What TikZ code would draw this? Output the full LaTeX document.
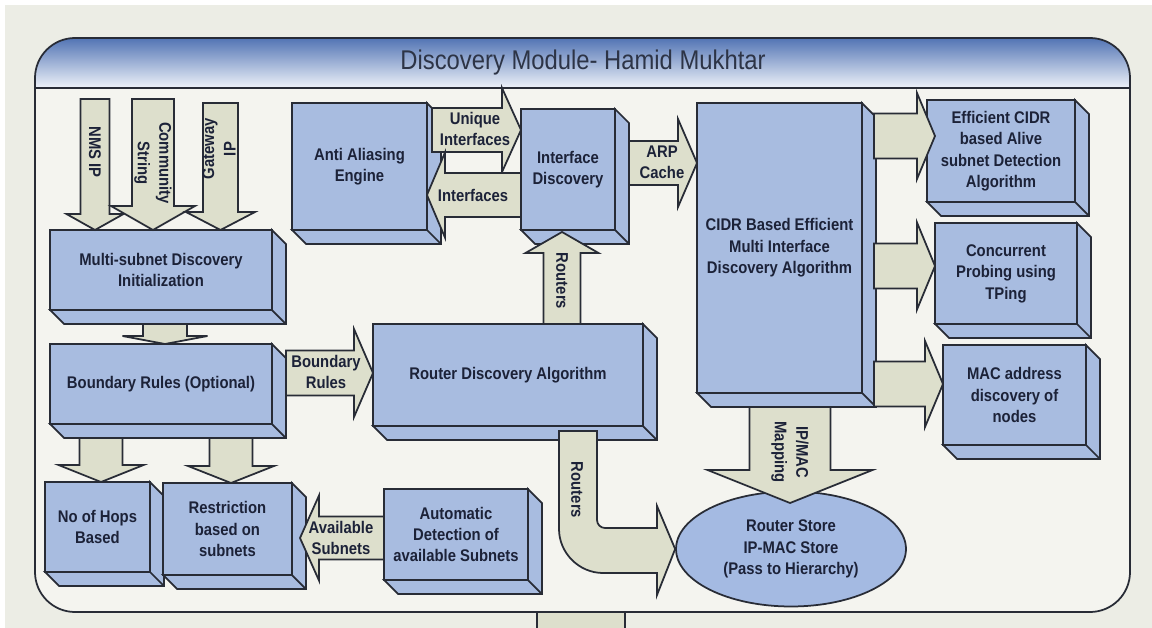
\documentclass[tikz,border=0pt]{standalone}
\usepackage{fontspec}
\setmainfont{Liberation Sans}[FakeStretch=0.88]
\usetikzlibrary{calc,positioning,shapes.geometric}

\definecolor{boxblue}{RGB}{168,188,224}
\definecolor{storeblue}{RGB}{164,186,226}
\definecolor{arrowfill}{RGB}{221,223,204}
\definecolor{edge}{RGB}{40,44,54}
\definecolor{inktext}{RGB}{28,34,56}
\definecolor{titleink}{RGB}{45,52,70}
\definecolor{headtop}{RGB}{82,116,180}
\definecolor{headbottom}{RGB}{238,242,249}
\definecolor{pagebg}{RGB}{236,237,229}
\definecolor{framebg}{RGB}{244,244,239}

\newcommand{\boxfont}{\fontsize{9.6}{12.2}\selectfont\bfseries}
\newcommand{\pxu}{0.02cm}

\tikzset{
  blockbox/.style={draw=edge, fill=boxblue, line width=1pt, anchor=north west,
    outer sep=0pt, align=center, text=inktext, font=\boxfont},
  boxside/.style={draw=edge, fill=boxblue, line width=1pt},
  fatarrow/.style={draw=edge, fill=arrowfill, line width=1pt, line join=miter},
  arrowtext/.style={align=center, text=inktext, font=\boxfont, inner sep=0pt},
}

% 3-D faces below and right of a box
\newcommand{\boxsides}[1]{%
  \filldraw[boxside] (#1.north east) -- ++(14,14) -- ($(#1.south east)+(14,14)$)
    -- ($(#1.south west)+(14,14)$) -- (#1.south west) -- (#1.south east) -- cycle;
  \draw[draw=edge, line width=1pt] (#1.south east) -- ++(14,14);
}

% block arrow: tail, tip, half shaft, half head, head length
\newcommand{\bigarrow}[5]{%
  \filldraw[fatarrow] let \p1=(#1), \p2=(#2),
      \n1={veclen(\x2-\x1,\y2-\y1)}, \n2={(\x2-\x1)/\n1}, \n3={(\y2-\y1)/\n1},
      \n4={#3*\pxu}, \n5={#4*\pxu}, \n6={#5*\pxu} in
    ({\x1-(\n3)*\n4},{\y1+(\n2)*\n4})
    -- ({\x2-(\n2)*\n6-(\n3)*\n4},{\y2-(\n3)*\n6+(\n2)*\n4})
    -- ({\x2-(\n2)*\n6-(\n3)*\n5},{\y2-(\n3)*\n6+(\n2)*\n5})
    -- (\p2)
    -- ({\x2-(\n2)*\n6+(\n3)*\n5},{\y2-(\n3)*\n6-(\n2)*\n5})
    -- ({\x2-(\n2)*\n6+(\n3)*\n4},{\y2-(\n3)*\n6-(\n2)*\n4})
    -- ({\x1+(\n3)*\n4},{\y1-(\n2)*\n4}) -- cycle;
}

\begin{document}
\begin{tikzpicture}[x=0.02cm, y=-0.02cm]
    \useasboundingbox (0,0) rectangle (1152,628);
    \fill[pagebg] (0,0) rectangle (1152,628);
    \fill[white] (0,0) rectangle (1152,5);
    \fill[white] (0,0) rectangle (5,628);

    \filldraw[fatarrow] (537,612) rectangle (625,640);
    \fill[framebg, rounded corners=0.8cm] (35,38) rectangle (1130,612);
    \begin{scope}
        \clip[rounded corners=0.8cm] (35,38) rectangle (1130,612);
        \shade[top color=headtop, bottom color=headbottom] (35,38) rectangle (1130,88);
    \end{scope}
    \draw[edge, line width=1pt, rounded corners=0.8cm] (35,38) rectangle (1130,612);
    \draw[edge, line width=1pt] (35,88) -- (1130,88);
    \node (title) [font=\fontsize{15.4}{18}\selectfont, text=titleink] at (583,63)
    {Discovery Module- Hamid Mukhtar};

    \node (msdi) [blockbox, minimum width=4.44cm, minimum height=1.6cm] at (50,230)
    {Multi-subnet Discovery\\Initialization};
    \boxsides{msdi}
    \node (brule) [blockbox, minimum width=4.44cm, minimum height=1.6cm] at (50,344)
    {Boundary Rules (Optional)};
    \boxsides{brule}
    \node (hops) [blockbox, minimum width=2.1cm, minimum height=1.8cm] at (45,482)
    {No of Hops\\Based};
    \boxsides{hops}
    \node (restr) [blockbox, minimum width=2.58cm, minimum height=1.84cm] at (163,483)
    {Restriction\\based on\\subnets};
    \boxsides{restr}
    \node (autod) [blockbox, minimum width=2.88cm, minimum height=1.82cm] at (384,489)
    {Automatic\\Detection of\\available Subnets};
    \boxsides{autod}
    \node (anti) [blockbox, minimum width=2.7cm, minimum height=2.54cm] at (292,103)
    {Anti Aliasing\\Engine};
    \boxsides{anti}
    \node (ifd) [blockbox, minimum width=1.88cm, minimum height=2.42cm] at (521,109)
    {Interface\\Discovery};
    \boxsides{ifd}
    \node (rda) [blockbox, minimum width=5.4cm, minimum height=2.04cm] at (373,324)
    {Router Discovery Algorithm};
    \boxsides{rda}
    \node (cidr) [blockbox, minimum width=3.3cm, minimum height=5.8cm] at (697,103)
    {CIDR Based Efficient\\Multi Interface\\Discovery Algorithm};
    \boxsides{cidr}
    \node (eff) [blockbox, minimum width=2.96cm, minimum height=2.04cm] at (927,100)
    {Efficient CIDR\\based Alive\\subnet Detection\\Algorithm};
    \boxsides{eff}
    \node (conc) [blockbox, minimum width=2.84cm, minimum height=2.02cm] at (935,223)
    {Concurrent\\Probing using\\TPing};
    \boxsides{conc}
    \node (mac) [blockbox, minimum width=2.86cm, minimum height=2cm] at (943,345)
    {MAC address\\discovery of\\nodes};
    \boxsides{mac}
    \node (store) [ellipse, draw=edge, fill=storeblue, line width=1pt, minimum width=4.6cm,
    minimum height=2.3cm, inner sep=0pt, align=center, text=inktext, font=\boxfont] at (791,549)
    {Router Store\\IP-MAC Store\\(Pass to Hierarchy)};

    \coordinate (nmsin) at (95,99);
    \coordinate (commin) at (153,99);
    \coordinate (gatein) at (220.5,103);
    \bigarrow{nmsin}{95,0 |- msdi.north}{14.5}{28.5}{16}
    \bigarrow{commin}{153,0 |- msdi.north}{21}{42}{24}
    \bigarrow{gatein}{220.5,0 |- msdi.north}{17.5}{34.5}{18}
    \bigarrow{165,324}{165,0 |- brule.north}{22}{42.5}{8}
    \bigarrow{101,438}{101,0 |- hops.north}{21.5}{42.5}{17}
    \bigarrow{231,438}{231,0 |- restr.north}{21.5}{43}{17}
    \bigarrow{286,373}{rda.west |- 0,373}{22.5}{44}{19}
    \bigarrow{autod.west |- 0,538}{300,538}{21.5}{42.5}{19}
    \bigarrow{432,130}{ifd.west |- 0,130}{22}{42}{19}
    \bigarrow{ifd.west |- 0,195}{anti.east |- 0,195}{22}{42.5}{18}
    \bigarrow{629,163}{cidr.west |- 0,163}{22}{44}{19}
    \bigarrow{562,0 |- rda.north}{562,232}{18.5}{36.5}{21}
    \bigarrow{874,136}{935,136}{22.5}{43}{18}
    \bigarrow{874,266}{conc.west |- 0,266}{22.5}{43.5}{18}
    \bigarrow{874,384}{mac.west |- 0,384}{22.5}{43}{18}
    \bigarrow{790,407}{790,503}{40.5}{82.5}{33}
    \filldraw[fatarrow] (559,431) -- (559,529) .. controls (559,553) and (579,573) .. (603,573)
        -- (657,573) -- (657,595) -- (store.west) -- (657,506) -- (657,528) -- (605,528)
        .. controls (600.6,528) and (597,524.4) .. (597,520) -- (597,431) -- cycle;

    \node (lnms) [arrowtext, rotate=-90] at (95,152) {NMS IP};
    \node (lcomm) [arrowtext, rotate=-90] at (153,163) {Community\\String};
    \node (lgate) [arrowtext, rotate=90] at (219,149) {Gateway\\IP};
    \node (lbound) [arrowtext] at (326,372) {Boundary\\Rules};
    \node (lavail) [arrowtext] at (341,538) {Available\\Subnets};
    \node (luniq) [arrowtext] at (475,129) {Unique\\Interfaces};
    \node (lintf) [arrowtext] at (473,195) {Interfaces};
    \node (larp) [arrowtext] at (662,162) {ARP\\Cache};
    \node (lrtup) [arrowtext, rotate=-90] at (562,281) {Routers};
    \node (lrtdn) [arrowtext, rotate=-90] at (577,490) {Routers};
    \node (lipmac) [arrowtext, rotate=-90] at (790,452) {IP/MAC\\Mapping};
\end{tikzpicture}
\end{document}
